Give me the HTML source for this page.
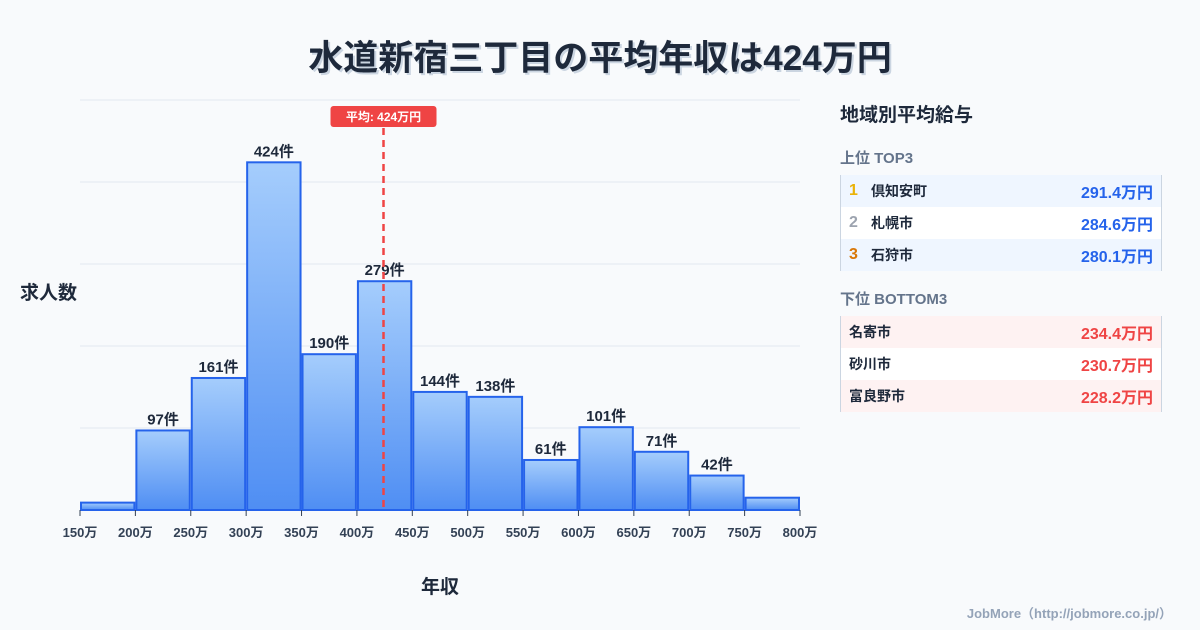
<!DOCTYPE html>
<html><head><meta charset="utf-8"><style>
body{margin:0;width:1200px;height:630px;background:#f8fafc;font-family:"Liberation Sans","Noto Sans CJK JP",sans-serif;overflow:hidden;position:relative}
.title{position:absolute;left:0;width:1200px;top:30px;text-align:center;font-size:35px;font-weight:bold;color:#1e293b;text-shadow:2px 2px 0 #cbd5e1}
.panel{position:absolute;left:840px;top:100px;width:322px}
.ph{font-size:19px;font-weight:bold;color:#1e293b;margin-bottom:20px}
.sh{font-size:15px;font-weight:bold;color:#64748b;margin:0 0 7px}
.tbl{border-left:1px solid #cbd5e1;border-right:1px solid #cbd5e1;margin-bottom:17px}
.row{height:32px;display:flex;align-items:center;font-size:14px;font-weight:bold;color:#1e293b;padding:0 8px}
.row .v{margin-left:auto;font-size:16px}
.rk{width:22px;font-size:16px}
.foot{position:absolute;right:28px;top:603px;font-size:13px;font-weight:bold;color:#94a3b8}
</style></head><body>
<div class="title">水道新宿三丁目の平均年収は424万円</div>
<svg id="chart" width="830" height="630" style="position:absolute;left:0;top:0">
<defs><linearGradient id="g" x1="0" y1="0" x2="0" y2="1"><stop offset="0" stop-color="#a5cdfc"/><stop offset="1" stop-color="#4f8ef3"/></linearGradient></defs>
</svg>
<div class="panel">
<div class="ph">地域別平均給与</div>
<div class="sh">上位 TOP3</div>
<div class="tbl">
<div class="row" style="background:#eff6ff"><span class="rk" style="color:#eab308">1</span>倶知安町<span class="v" style="color:#2563eb">291.4万円</span></div>
<div class="row" style="background:#fff"><span class="rk" style="color:#9ca3af">2</span>札幌市<span class="v" style="color:#2563eb">284.6万円</span></div>
<div class="row" style="background:#eff6ff"><span class="rk" style="color:#d97706">3</span>石狩市<span class="v" style="color:#2563eb">280.1万円</span></div>
</div>
<div class="sh">下位 BOTTOM3</div>
<div class="tbl">
<div class="row" style="background:#fef2f2">名寄市<span class="v" style="color:#ef4444">234.4万円</span></div>
<div class="row" style="background:#fff">砂川市<span class="v" style="color:#ef4444">230.7万円</span></div>
<div class="row" style="background:#fef2f2">富良野市<span class="v" style="color:#ef4444">228.2万円</span></div>
</div></div>
<div class="foot">JobMore（http://jobmore.co.jp/）</div>
<script>
const binStarts=[150,200,250,300,350,400,450,500,550,600,650,700,750];
const counts=[9,97,161,424,190,279,144,138,61,101,71,42,15];
const showLabel=[false,true,true,true,true,true,true,true,true,true,true,true,false];
const xTicks=[150,200,250,300,350,400,450,500,550,600,650,700,750,800];
const yGrid=[0,100,200,300,400,500];
const meanValue=424;
const ns="http://www.w3.org/2000/svg",svg=document.getElementById('chart');
const X0=80,X1=800,Y0=510,Y1=100;
const x=v=>X0+(v-150)/(800-150)*(X1-X0);
const y=v=>Y0-v/500*(Y0-Y1);
function mk(t,a,txt){const e=document.createElementNS(ns,t);for(const k in a)e.setAttribute(k,a[k]);if(txt!=null)e.textContent=txt;svg.appendChild(e);return e;}
yGrid.forEach(g=>{const l=mk('line',{x1:X0,x2:X1,y1:y(g),y2:y(g),stroke:'#e2e8f0','stroke-width':1});

});
binStarts.forEach((b,i)=>{const x0=x(b),x1=x(b+50);
const r=mk('rect',{x:x0+1,y:y(counts[i]),width:x1-x0-2,height:Y0-y(counts[i]),fill:'url(#g)',stroke:'#2563eb','stroke-width':2});


if(showLabel[i]){const t=mk('text',{x:(x0+x1)/2,y:y(counts[i])-6,'text-anchor':'middle','font-size':15,'font-weight':'bold',fill:'#1e293b'},counts[i]+'件');

}});
xTicks.forEach(v=>{const l=mk('line',{x1:x(v),x2:x(v),y1:Y0,y2:Y0+6,stroke:'#334155'});


const t=mk('text',{x:x(v),y:Y0+27,'text-anchor':'middle','font-size':13,'font-weight':'bold',fill:'#334155'},v+'万');

});
const mx=x(meanValue);
const ml=mk('line',{x1:mx,x2:mx,y1:128,y2:Y0,stroke:'#ef4444','stroke-width':2.5,'stroke-dasharray':'7,5'});


const mb=mk('rect',{x:mx-53,y:106,width:106,height:21,rx:3,fill:'#ef4444'});


const mt=mk('text',{x:mx,y:121,'text-anchor':'middle','font-size':12,'font-weight':'bold',fill:'#fff'},'平均: '+meanValue+'万円');


const yt=mk('text',{x:20,y:299,'font-size':19,'font-weight':'bold',fill:'#1e293b'},'求人数');


const xt=mk('text',{x:440,y:593,'text-anchor':'middle','font-size':19,'font-weight':'bold',fill:'#1e293b'},'年収');


</script>
</body></html>
